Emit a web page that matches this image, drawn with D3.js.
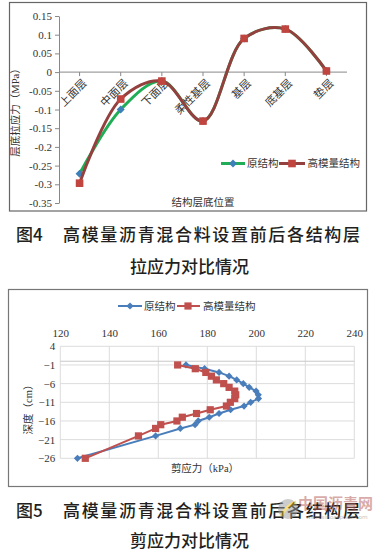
<!DOCTYPE html>
<html>
<head>
<meta charset="utf-8">
<script src="https://cdn.jsdelivr.net/npm/d3@7"></script>
<style>
  body { margin: 0; background: #fff; }
  svg { display: block; }
  .cn { font-family: "Liberation Serif", "Noto Sans CJK SC", serif; font-size: 10.5px; fill: #333; }
  .cap { font-family: "Noto Sans CJK SC", "Noto Sans", sans-serif; font-size: 17px; font-weight: 500; fill: #231f20; }
</style>
</head>
<body>
<div id="chart"></div>
<script>
// Fig 4 data: tensile stress at the bottom of each layer (MPa)
var layers = ["上面层", "中面层", "下面层", "柔性基层", "基层", "底基层", "垫层"];
var tensileOrig = [-0.272, -0.1, -0.024, -0.131, 0.09, 0.115, 0.003];
var tensileHigh = [-0.297, -0.072, -0.024, -0.131, 0.09, 0.115, 0.003];
var tensileTicks = [0.15, 0.1, 0.05, 0, -0.05, -0.1, -0.15, -0.2, -0.25, -0.3, -0.35];

// Fig 5 data: shear stress (kPa) vs depth (cm)
var depths = [-1, -2, -3, -4, -5, -6, -7, -8, -9, -10, -11, -12, -13, -14, -15, -16, -17, -18, -20, -26];
var shearOrig = [171.3, 178.9, 184.8, 188.9, 192, 194.7, 197.1, 199.9, 200.8, 200.9, 197.7, 195, 189.5, 184.8, 180.8, 176.3, 175, 169, 158.9, 127];
var shearHigh = [167.9, 175.1, 179.4, 181.7, 183.7, 186.7, 188.9, 191.2, 191.6, 191.2, 189.4, 187.8, 181.2, 175.6, 169.8, 167.6, 161, 158.9, 151.9, 130.2];
var shearTicks = [120, 140, 160, 180, 200, 220, 240];
var depthTicks = [4, -1, -6, -11, -16, -21, -26];

var seriesNames = ["原结构", "高模量结构"];

var numFont = "'Liberation Serif', 'DejaVu Serif', serif";

var svg = d3.select("#chart")
  .append("svg")
  .attr("width", 379)
  .attr("height", 554);

function diamond(r) {
  return "M0," + (-r) + "L" + r + ",0L0," + r + "L" + (-r) + ",0Z";
}

// ---------------- Figure 4 ----------------
var g1 = svg.append("g");

g1.append("rect")
  .attr("x", 9.5).attr("y", 2.5)
  .attr("width", 357).attr("height", 208.5)
  .style("fill", "none")
  .style("stroke", "#666")
  .style("stroke-width", 1.2);

var x1 = d3.scaleBand().domain(layers).range([59, 347]);
var y1 = d3.scaleLinear().domain([-0.35, 0.15]).range([203, 16]);

var yAxis1 = d3.axisLeft(y1)
  .tickValues(tensileTicks)
  .tickSize(4)
  .tickSizeOuter(0)
  .tickPadding(3)
  .tickFormat(function(d) { return String(+d.toFixed(2)); });

var ya1 = g1.append("g")
  .attr("transform", "translate(59,0)")
  .call(yAxis1)
  .attr("font-family", numFont)
  .attr("font-size", 11);
ya1.select(".domain").style("stroke", "#888");
ya1.selectAll(".tick line").style("stroke", "#888");
ya1.selectAll(".tick text").style("fill", "#333");

// category axis at zero
g1.append("line")
  .attr("x1", 59).attr("x2", 347)
  .attr("y1", y1(0)).attr("y2", y1(0))
  .style("stroke", "#888");

g1.selectAll(".ctick")
  .data(layers)
  .enter()
  .append("line")
  .attr("class", "ctick")
  .attr("x1", function(d) { return x1(d) + x1.bandwidth() / 2; })
  .attr("x2", function(d) { return x1(d) + x1.bandwidth() / 2; })
  .attr("y1", y1(0))
  .attr("y2", y1(0) + 4)
  .style("stroke", "#888");

g1.selectAll(".clabel")
  .data(layers)
  .enter()
  .append("text")
  .attr("class", "cn clabel")
  .attr("transform", function(d) {
    return "translate(" + (x1(d) + x1.bandwidth() / 2 + 5) + "," + (y1(0) + 9) + ") rotate(-45)";
  })
  .attr("text-anchor", "end")
  .attr("dy", "0.35em")
  .style("font-size", "11px")
  .text(function(d) { return d; });

var line1 = d3.line()
  .x(function(d, i) { return x1(layers[i]) + x1.bandwidth() / 2; })
  .y(function(d) { return y1(d); })
  .curve(d3.curveCatmullRom.alpha(0.5));

g1.append("path")
  .datum(tensileOrig)
  .attr("d", line1)
  .style("fill", "none")
  .style("stroke", "#1fae55")
  .style("stroke-width", 3);

g1.selectAll(".dOrig")
  .data(tensileOrig)
  .enter()
  .append("path")
  .attr("class", "dOrig")
  .attr("transform", function(d, i) {
    return "translate(" + (x1(layers[i]) + x1.bandwidth() / 2) + "," + y1(d) + ")";
  })
  .attr("d", diamond(4))
  .style("fill", "#3d7fb8");

g1.append("path")
  .datum(tensileHigh)
  .attr("d", line1)
  .style("fill", "none")
  .style("stroke", "#94403e")
  .style("stroke-width", 3);

g1.selectAll(".sHigh")
  .data(tensileHigh)
  .enter()
  .append("rect")
  .attr("class", "sHigh")
  .attr("x", function(d, i) { return x1(layers[i]) + x1.bandwidth() / 2 - 3.8; })
  .attr("y", function(d) { return y1(d) - 3.8; })
  .attr("width", 7.6)
  .attr("height", 7.6)
  .style("fill", "#c0453f");

// legend
var lg1 = g1.append("g");
lg1.append("line").attr("x1", 221).attr("x2", 245).attr("y1", 163.5).attr("y2", 163.5)
  .style("stroke", "#1fae55").style("stroke-width", 3);
lg1.append("path").attr("transform", "translate(233,163.5)").attr("d", diamond(4)).style("fill", "#3d7fb8");
lg1.append("text").attr("class", "cn").attr("x", 247).attr("y", 167).text(seriesNames[0]);
lg1.append("line").attr("x1", 279).attr("x2", 305).attr("y1", 163.5).attr("y2", 163.5)
  .style("stroke", "#94403e").style("stroke-width", 3);
lg1.append("rect").attr("x", 288.2).attr("y", 159.7).attr("width", 7.6).attr("height", 7.6).style("fill", "#c0453f");
lg1.append("text").attr("class", "cn").attr("x", 307.5).attr("y", 167).text(seriesNames[1]);

g1.append("text")
  .attr("class", "cn")
  .attr("x", 203).attr("y", 206)
  .attr("text-anchor", "middle")
  .text("结构层底位置");

g1.append("text")
  .attr("class", "cn")
  .attr("transform", "translate(19,110) rotate(-90)")
  .attr("text-anchor", "middle")
  .text("层底拉应力（MPa）");

// caption 4
svg.append("text").attr("class", "cap").attr("x", 16).attr("y", 241).text("图4");
svg.append("text").attr("class", "cap").attr("x", 63).attr("y", 241)
  .attr("textLength", 297).attr("lengthAdjust", "spacing")
  .text("高模量沥青混合料设置前后各结构层");
svg.append("text").attr("class", "cap").attr("x", 189.5).attr("y", 272.5)
  .attr("text-anchor", "middle")
  .text("拉应力对比情况");

// ---------------- Figure 5 ----------------
var g2 = svg.append("g");

g2.append("rect")
  .attr("x", 8.5).attr("y", 289.5)
  .attr("width", 359).attr("height", 197)
  .style("fill", "none")
  .style("stroke", "#777")
  .style("stroke-width", 1.2);

var x2 = d3.scaleLinear().domain([120, 240]).range([60.3, 354.3]);
var y2 = d3.scaleLinear().domain([-26, 4]).range([458.3, 346.3]);

g2.selectAll(".vgrid")
  .data(shearTicks)
  .enter()
  .append("line")
  .attr("class", "vgrid")
  .attr("x1", function(d) { return x2(d); })
  .attr("x2", function(d) { return x2(d); })
  .attr("y1", y2(4)).attr("y2", y2(-26))
  .style("stroke", "#dcdcdc");

g2.selectAll(".hgrid")
  .data(depthTicks)
  .enter()
  .append("line")
  .attr("class", "hgrid")
  .attr("x1", x2(120)).attr("x2", x2(240))
  .attr("y1", function(d) { return y2(d); })
  .attr("y2", function(d) { return y2(d); })
  .style("stroke", "#dcdcdc");

// value axis line at depth 0
g2.append("line")
  .attr("x1", x2(120)).attr("x2", x2(240))
  .attr("y1", y2(0)).attr("y2", y2(0))
  .style("stroke", "#c8c8c8");

var xa2 = g2.append("g")
  .attr("transform", "translate(0," + y2(4) + ")")
  .call(d3.axisTop(x2).tickValues(shearTicks).tickSize(0).tickPadding(9))
  .attr("font-family", numFont)
  .attr("font-size", 11);
xa2.select(".domain").remove();
xa2.selectAll(".tick text").style("fill", "#333");

var ya2 = g2.append("g")
  .attr("transform", "translate(" + x2(120) + ",0)")
  .call(d3.axisLeft(y2).tickValues(depthTicks).tickSize(0).tickPadding(5))
  .attr("font-family", numFont)
  .attr("font-size", 11);
ya2.select(".domain").remove();
ya2.selectAll(".tick text").style("fill", "#333");

var line2 = d3.line()
  .x(function(d) { return x2(d); })
  .y(function(d, i) { return y2(depths[i]); });

g2.append("path")
  .datum(shearOrig)
  .attr("d", line2)
  .style("fill", "none")
  .style("stroke", "#4a7ebb")
  .style("stroke-width", 2);

g2.selectAll(".dOrig2")
  .data(shearOrig)
  .enter()
  .append("path")
  .attr("class", "dOrig2")
  .attr("transform", function(d, i) { return "translate(" + x2(d) + "," + y2(depths[i]) + ")"; })
  .attr("d", diamond(3.6))
  .style("fill", "#4a7ebb");

g2.append("path")
  .datum(shearHigh)
  .attr("d", line2)
  .style("fill", "none")
  .style("stroke", "#c0504d")
  .style("stroke-width", 2);

g2.selectAll(".sHigh2")
  .data(shearHigh)
  .enter()
  .append("rect")
  .attr("class", "sHigh2")
  .attr("x", function(d) { return x2(d) - 3.6; })
  .attr("y", function(d, i) { return y2(depths[i]) - 3.6; })
  .attr("width", 7.2)
  .attr("height", 7.2)
  .style("fill", "#c0504d");

// legend
var lg2 = g2.append("g");
lg2.append("line").attr("x1", 118).attr("x2", 142).attr("y1", 306).attr("y2", 306)
  .style("stroke", "#4a7ebb").style("stroke-width", 2);
lg2.append("path").attr("transform", "translate(130,306)").attr("d", diamond(3.6)).style("fill", "#4a7ebb");
lg2.append("text").attr("class", "cn").attr("x", 144).attr("y", 309.8).text(seriesNames[0]);
lg2.append("line").attr("x1", 177).attr("x2", 200).attr("y1", 306).attr("y2", 306)
  .style("stroke", "#c0504d").style("stroke-width", 2);
lg2.append("rect").attr("x", 184.4).attr("y", 302.4).attr("width", 7.2).attr("height", 7.2).style("fill", "#c0504d");
lg2.append("text").attr("class", "cn").attr("x", 203).attr("y", 309.8).text(seriesNames[1]);

g2.append("text")
  .attr("class", "cn")
  .attr("x", 205).attr("y", 471.5)
  .attr("text-anchor", "middle")
  .text("剪应力（kPa）");

g2.append("text")
  .attr("class", "cn")
  .attr("transform", "translate(31.5,407) rotate(-90)")
  .attr("text-anchor", "middle")
  .text("深度（cm）");

// caption 5
svg.append("text").attr("class", "cap").attr("x", 16).attr("y", 517).text("图5");
svg.append("text").attr("class", "cap").attr("x", 63).attr("y", 517)
  .attr("textLength", 297).attr("lengthAdjust", "spacing")
  .text("高模量沥青混合料设置前后各结构层");
svg.append("text").attr("class", "cap").attr("x", 189.5).attr("y", 546.5)
  .attr("text-anchor", "middle")
  .text("剪应力对比情况");

// watermark (sits over the caption, as in the source)
var wm = svg.append("g").style("opacity", 0.5);
wm.append("circle").attr("cx", 288).attr("cy", 509).attr("r", 10).style("fill", "#9a9a9a");
wm.append("path").attr("d", "M281,516 Q286,506 296,502").style("fill", "none").style("stroke", "#e8c020").style("stroke-width", 3);
wm.append("text").attr("x", 298).attr("y", 509)
  .style("font-family", "Noto Sans CJK SC").style("font-size", "15px").style("font-weight", "bold")
  .style("fill", "#b35a55").text("中国沥青网");
wm.append("text").attr("x", 306).attr("y", 519)
  .style("font-family", "Noto Sans").style("font-size", "6px")
  .style("fill", "#888").text("www.sinoasphalt.com");
</script>
</body>
</html>
